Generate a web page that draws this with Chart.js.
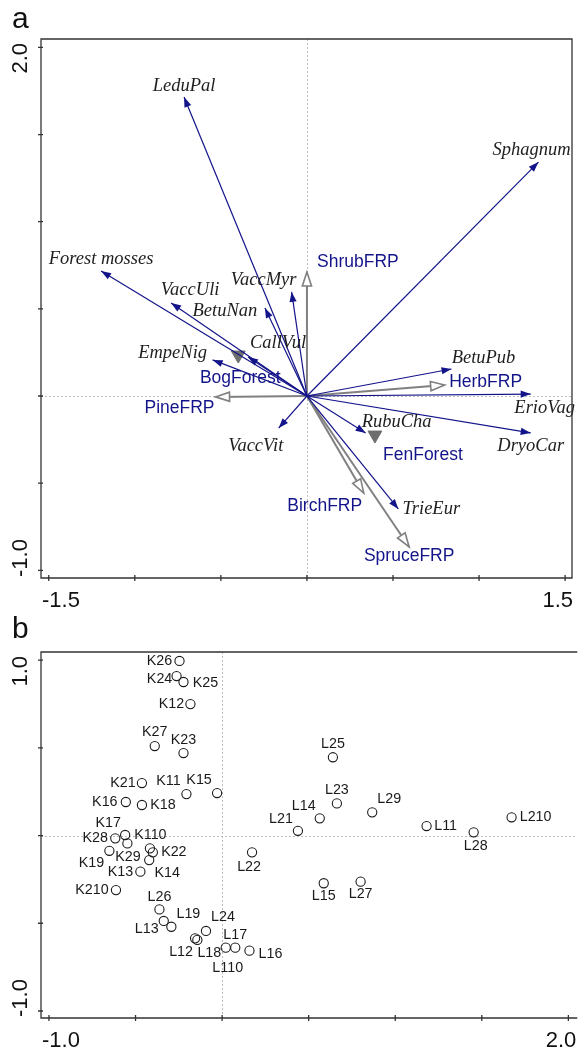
<!DOCTYPE html>
<html>
<head>
<meta charset="utf-8">
<script src="https://cdn.jsdelivr.net/npm/chart.js@4.4.1/dist/chart.umd.min.js"></script>
<style>
  body { margin: 0; background: #fff; }
  canvas { position: absolute; left: 0; }
</style>
</head>
<body>
<canvas id="ordA" width="581" height="610" style="top:0;width:581px;height:610px"></canvas>
<canvas id="ordB" width="581" height="441" style="top:610px;width:581px;height:441px"></canvas>
<script>
// ---------- panel a : species + environmental variables ----------
const speciesNames = ['LeduPal','Sphagnum','Forest mosses','VaccUli','VaccMyr','BetuNan','CallVul','EmpeNig','VaccVit','BetuPub','ErioVag','DryoCar','RubuCha','TrieEur'];
const speciesX = [-0.714, 1.345, -1.196, -0.789, -0.089, -0.244, -0.342, -0.548, -0.164, 0.840, 1.300, 1.300, 0.341, 0.531];
const speciesY = [1.715, 1.342, 0.717, 0.534, 0.597, 0.505, 0.224, 0.207, -0.184, 0.155, 0.011, -0.212, -0.212, -0.648];

const envNames = ['ShrubFRP','PineFRP','HerbFRP','BirchFRP','SpruceFRP'];
const envX = [0.000, -0.531, 0.800, 0.330, 0.594];
const envY = [0.711, -0.005, 0.063, -0.557, -0.866];

const centroidNames = ['BogForest','FenForest'];
const centroidX = [-0.399, 0.395];
const centroidY = [0.235, -0.224];

const ticksAX = [-1.5, -1.0, -0.5, 0, 0.5, 1.0, 1.5];
const ticksAY = [-1.0, -0.5, 0, 0.5, 1.0, 1.5, 2.0];
const endLabelsAX = ['-1.5', '1.5'];
const endLabelsAY = ['-1.0', '2.0'];

// ---------- panel b : samples ----------
const sampleNames = ['K26','K24','K25','K12','K27','K23','K21','K11','K15','K16','K18','K28','K17','K110','K19','K29','K22','K14','K13','K210',
  'L26','L13','L19','L12','L18','L24','L17','L110','L16','L22','L21','L14','L23','L25','L29','L11','L28','L210','L15','L27'];
const sampleX = [-0.246,-0.263,-0.223,-0.183,-0.389,-0.223,-0.463,-0.206,-0.029,-0.556,-0.463,-0.617,-0.560,-0.547,-0.651,-0.417,-0.400,-0.421,-0.472,-0.613,
  -0.362,-0.337,-0.293,-0.156,-0.143,-0.093,0.076,0.021,0.158,0.173,0.438,0.564,0.663,0.640,0.867,1.181,1.453,1.672,0.587,0.800];
const sampleY = [0.995,0.909,0.875,0.749,0.510,0.470,0.299,0.236,0.242,0.191,0.174,-0.016,0.003,-0.045,-0.087,-0.073,-0.096,-0.140,-0.206,-0.311,
  -0.421,-0.487,-0.520,-0.586,-0.595,-0.544,-0.639,-0.639,-0.656,-0.096,0.027,0.098,0.183,0.446,0.132,0.054,0.018,0.104,-0.272,-0.263];

const ticksBX = [-1.0, -0.5, 0, 0.5, 1.0, 1.5, 2.0];
const ticksBY = [-1.0, -0.5, 0, 0.5, 1.0];
const endLabelsBX = ['-1.0', '2.0'];
const endLabelsBY = ['-1.0', '1.0'];

// label placement (pixel offsets from the mark), kept apart from the data
const speciesLabelOffset = [[0,-11],[-7,-12],[0,-12],[19,-13],[-28,-12],[-40,3],[30,-14],[-40,-7],[-23,18],[32,-11],[14,14],[0,13],[31,-11],[33,0]];
const envLabelOffset = [[51,-10],[-36,11],[41,-3],[-39,13],[0,9]];
const centroidLabelOffset = [[2,23],[48,20]];
const sampleLabelOffset = [[-20,0],[-17,3],[22,1],[-19,0],[0,-14],[0,-13],[-19,0],[-18,-13],[-18,-13],[-21,0],[21,0],[-20,0],[-17,-12],[23,-8],[-18,12],[-22,9],[21,0],[18,13],[-20,0],[-24,0],
  [0,-12],[-17,8],[17,-13],[-14,14],[12,13],[17,-14],[0,-13],[2,20],[21,3],[-3,15],[-17,-12],[-16,-12],[0,-13],[0,-13],[17,-13],[19,0],[2,14],[24,0],[0,13],[0,12]];

const NAVY = '#14148a';
const GREY = '#808080';
const AXIS = '#333333';

// ==================== SHARED DRAWING HELPERS ====================
function zeroLines(chart) {
  const { ctx, chartArea: a, scales: { x, y } } = chart;
  const px = Math.round(x.getPixelForValue(0)) + 0.5;
  const py = Math.round(y.getPixelForValue(0)) + 0.5;
  ctx.save();
  ctx.strokeStyle = '#bdbdbd';
  ctx.lineWidth = 1;
  ctx.setLineDash([2, 2]);
  ctx.beginPath();
  ctx.moveTo(px, a.top); ctx.lineTo(px, a.bottom);
  ctx.moveTo(a.left, py); ctx.lineTo(a.right, py);
  ctx.stroke();
  ctx.restore();
}

function frame(chart, tx, ty, endX, endY, letter, rightSpine) {
  const { ctx, chartArea: a, scales: { x, y } } = chart;
  ctx.save();
  ctx.strokeStyle = AXIS;
  ctx.lineWidth = 1.3;
  ctx.beginPath();
  if (rightSpine) {
    ctx.rect(a.left, a.top, a.right - a.left, a.bottom - a.top);
  } else {
    ctx.moveTo(a.right + 2, a.top); ctx.lineTo(a.left, a.top);
    ctx.lineTo(a.left, a.bottom); ctx.lineTo(a.right + 2, a.bottom);
  }
  tx.forEach(v => {
    const p = x.getPixelForValue(v);
    ctx.moveTo(p, a.bottom - 3); ctx.lineTo(p, a.bottom + 3);
  });
  ty.forEach(v => {
    const p = y.getPixelForValue(v);
    ctx.moveTo(a.left - 3, p); ctx.lineTo(a.left + 2, p);
  });
  ctx.stroke();

  ctx.fillStyle = '#111';
  ctx.font = '22px "Liberation Sans", Arial, sans-serif';
  ctx.textBaseline = 'alphabetic';
  ctx.textAlign = 'left';
  ctx.fillText(endX[0], a.left + 1, a.bottom + 29);
  ctx.textAlign = 'right';
  ctx.fillText(endX[1], Math.min(a.right + 1, chart.width), a.bottom + 29);

  ctx.save();
  ctx.translate(27, 0);
  ctx.rotate(-Math.PI / 2);
  ctx.textAlign = 'left';
  ctx.fillText(endY[0], -(a.bottom - 1), 0);
  ctx.textAlign = 'right';
  ctx.fillText(endY[1], -(a.top + 4), 0);
  ctx.restore();

  ctx.font = '30px "Liberation Sans", Arial, sans-serif';
  ctx.textAlign = 'left';
  ctx.fillText(letter, 12, 28);
  ctx.restore();
}

function arrowHead(ctx, x0, y0, x1, y1, len, half, fill, stroke) {
  const ang = Math.atan2(y1 - y0, x1 - x0);
  ctx.save();
  ctx.translate(x1, y1);
  ctx.rotate(ang);
  ctx.beginPath();
  ctx.moveTo(0, 0);
  ctx.lineTo(-len, -half);
  ctx.lineTo(-len, half);
  ctx.closePath();
  ctx.fillStyle = fill;
  ctx.fill();
  if (stroke) {
    ctx.strokeStyle = stroke;
    ctx.lineWidth = 1.6;
    ctx.lineJoin = 'miter';
    ctx.stroke();
  }
  ctx.restore();
}

function text(ctx, str, x, y, font, color) {
  ctx.font = font;
  ctx.fillStyle = color;
  ctx.textAlign = 'center';
  ctx.textBaseline = 'middle';
  ctx.fillText(str, x, y);
}

// ==================== PANEL A ====================
const arrowSets = [];
speciesNames.forEach((n, i) => arrowSets.push({
  label: n, kind: 'species',
  data: [{ x: 0, y: 0 }, { x: speciesX[i], y: speciesY[i] }],
  showLine: true, borderColor: NAVY, borderWidth: 1.2, pointRadius: 0
}));
envNames.forEach((n, i) => arrowSets.push({
  label: n, kind: 'env',
  data: [{ x: 0, y: 0 }, { x: envX[i], y: envY[i] }],
  showLine: true, borderColor: GREY, borderWidth: 2, pointRadius: 0
}));
arrowSets.push({
  label: 'centroids', kind: 'centroid',
  data: centroidX.map((v, i) => ({ x: v, y: centroidY[i] })),
  pointStyle: 'triangle', rotation: 180, pointRadius: 8,
  backgroundColor: '#6e6e6e', borderColor: '#6e6e6e', borderWidth: 1
});

const panelA = {
  id: 'panelA',
  beforeDatasetsDraw(chart) { zeroLines(chart); },
  afterDatasetsDraw(chart) {
    const ctx = chart.ctx;
    const serif = 'italic 18.5px "Liberation Serif", "Times New Roman", serif';
    const sans = '17.5px "Liberation Sans", Arial, sans-serif';
    chart.data.datasets.forEach((ds, di) => {
      const pts = chart.getDatasetMeta(di).data;
      if (ds.kind === 'species') {
        arrowHead(ctx, pts[0].x, pts[0].y, pts[1].x, pts[1].y, 10, 3.6, NAVY);
        const o = speciesLabelOffset[di];
        text(ctx, ds.label, pts[1].x + o[0], pts[1].y + o[1], serif, '#1e1e1e');
      } else if (ds.kind === 'env') {
        arrowHead(ctx, pts[0].x, pts[0].y, pts[1].x, pts[1].y, 14, 4.6, '#fff', GREY);
        const o = envLabelOffset[envNames.indexOf(ds.label)];
        text(ctx, ds.label, pts[1].x + o[0], pts[1].y + o[1], sans, NAVY);
      } else if (ds.kind === 'centroid') {
        pts.forEach((p, k) => {
          const o = centroidLabelOffset[k];
          text(ctx, centroidNames[k], p.x + o[0], p.y + o[1], sans, NAVY);
        });
      }
    });
    frame(chart, ticksAX, ticksAY, endLabelsAX, endLabelsAY, 'a', true);
  }
};

new Chart(document.getElementById('ordA'), {
  type: 'scatter',
  data: { datasets: arrowSets },
  options: {
    responsive: false,
    animation: false,
    layout: { padding: { left: 41, top: 39, right: 2, bottom: 32 } },
    plugins: { legend: { display: false }, tooltip: { enabled: false } },
    scales: {
      x: { type: 'linear', min: -1.545, max: 1.540, display: false },
      y: { type: 'linear', min: -1.044, max: 2.048, display: false }
    }
  },
  plugins: [panelA]
});

// ==================== PANEL B ====================
const panelB = {
  id: 'panelB',
  beforeDatasetsDraw(chart) { zeroLines(chart); },
  afterDatasetsDraw(chart) {
    const ctx = chart.ctx;
    const font = '14.3px "Liberation Sans", Arial, sans-serif';
    chart.getDatasetMeta(0).data.forEach((p, i) => {
      const o = sampleLabelOffset[i];
      text(ctx, sampleNames[i], p.x + o[0], p.y + o[1], font, '#1a1a1a');
    });
    frame(chart, ticksBX, ticksBY, endLabelsBX, endLabelsBY, 'b', false);
  }
};

new Chart(document.getElementById('ordB'), {
  type: 'scatter',
  data: {
    datasets: [{
      label: 'samples',
      data: sampleX.map((v, i) => ({ x: v, y: sampleY[i] })),
      pointStyle: 'circle', pointRadius: 4.6,
      backgroundColor: 'rgba(255,255,255,0)', borderColor: '#1a1a1a', borderWidth: 1.1
    }]
  },
  options: {
    responsive: false,
    animation: false,
    layout: { padding: { left: 41, top: 42, right: 0, bottom: 33 } },
    plugins: { legend: { display: false }, tooltip: { enabled: false } },
    scales: {
      x: { type: 'linear', min: -1.046, max: 2.040, display: false },
      y: { type: 'linear', min: -1.040, max: 1.046, display: false }
    }
  },
  plugins: [panelB]
});
</script>
</body>
</html>
